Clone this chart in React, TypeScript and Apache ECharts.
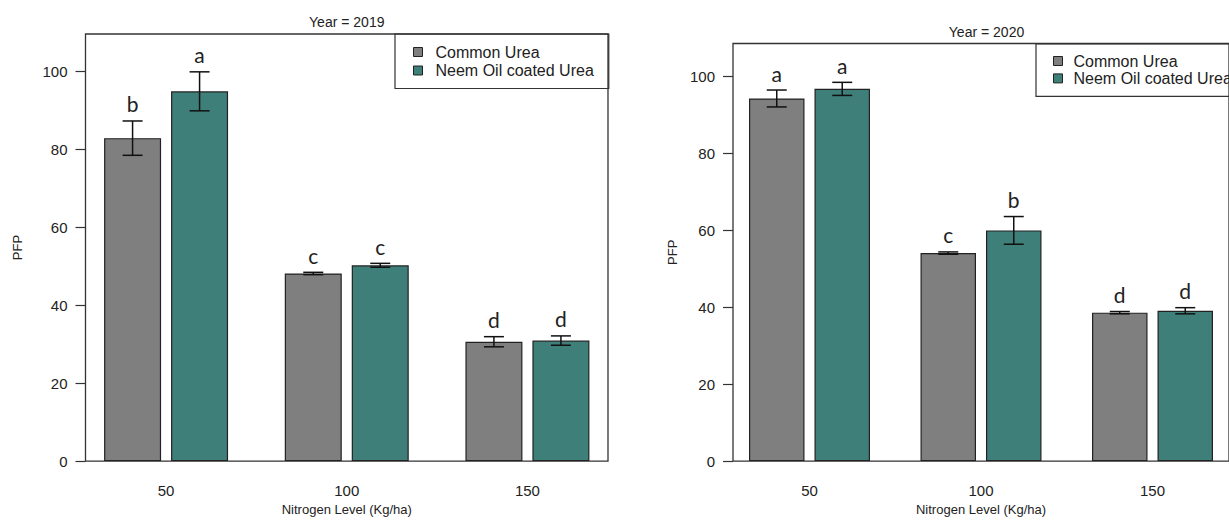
import React, { useEffect, useRef } from "react";
import * as echarts from "echarts";

// ---- data ----
const nitrogenLevels = [50, 100, 150];
const yTicks = [0, 20, 40, 60, 80, 100];
const seriesNames = ["Common Urea", "Neem Oil coated Urea"];
const titles = ["Year = 2019", "Year = 2020"];

const common2019 = [82.8, 48.1, 30.6];
const commonErr2019 = [4.4, 0.3, 1.3];
const commonLetters2019 = ["b", "c", "d"];
const neem2019 = [94.8, 50.2, 30.9];
const neemErr2019 = [5.0, 0.5, 1.2];
const neemLetters2019 = ["a", "c", "d"];

const common2020 = [94.3, 54.1, 38.6];
const commonErr2020 = [2.2, 0.3, 0.3];
const commonLetters2020 = ["a", "c", "d"];
const neem2020 = [96.8, 60.0, 39.1];
const neemErr2020 = [1.7, 3.6, 0.8];
const neemLetters2020 = ["a", "b", "d"];

const FONT = "'Liberation Sans', Arial, sans-serif";
const GRAY = "#7f7f7f";
const TEAL = "#3f7f7a";
const INK = "#222";

function errSeries(
  idx: number,
  means: number[],
  errs: number[],
  letters: string[],
  offset: number
) {
  return {
    type: "custom",
    xAxisIndex: idx,
    yAxisIndex: idx,
    z: 5,
    silent: true,
    clip: false,
    data: nitrogenLevels.map((x, i) => [x, means[i], errs[i]]),
    encode: { x: 0, y: 1 },
    renderItem: (params: any, api: any) => {
      const x = api.value(0);
      const m = api.value(1);
      const e = api.value(2);
      const top = api.coord([x, m + e]);
      const bot = api.coord([x, m - e]);
      const cx = top[0] + offset;
      const half = 10;
      const ls = { stroke: "#111", lineWidth: 1.5 };
      return {
        type: "group",
        children: [
          { type: "line", shape: { x1: cx, y1: top[1], x2: cx, y2: bot[1] }, style: ls },
          { type: "line", shape: { x1: cx - half, y1: top[1], x2: cx + half, y2: top[1] }, style: ls },
          { type: "line", shape: { x1: cx - half, y1: bot[1], x2: cx + half, y2: bot[1] }, style: ls },
          {
            type: "text",
            style: {
              text: letters[params.dataIndex],
              x: cx,
              y: top[1] - 17,
              align: "center",
              verticalAlign: "middle",
              fontSize: 21,
              fontFamily: "Lato, 'Open Sans', sans-serif",
              fill: INK,
            },
          },
        ],
      };
    },
  };
}

function barSeries(idx: number, name: string, vals: number[], color: string, width: number, gap: string) {
  return {
    type: "bar",
    name,
    xAxisIndex: idx,
    yAxisIndex: idx,
    data: nitrogenLevels.map((x, i) => [x, vals[i]]),
    barWidth: width,
    barGap: gap,
    itemStyle: { color, borderColor: INK, borderWidth: 1.2 },
  };
}

function yAxis(idx: number, max: number, nameGap: number) {
  return {
    type: "value",
    gridIndex: idx,
    min: 0,
    max,
    name: "PFP",
    nameLocation: "middle",
    nameGap,
    nameTextStyle: { fontSize: 13, color: INK, fontFamily: FONT },
    axisLine: { show: false },
    axisTick: { show: true, length: 10, customValues: yTicks, lineStyle: { color: "#333", width: 1.2 } },
    axisLabel: { customValues: yTicks, margin: 18, fontSize: 15, color: INK, fontFamily: FONT },
    splitLine: { show: false },
  };
}

function xAxis(idx: number) {
  return {
    type: "value",
    gridIndex: idx,
    min: 27.7,
    max: 172.3,
    name: "Nitrogen Level (Kg/ha)",
    nameLocation: "middle",
    nameGap: 40,
    nameTextStyle: { fontSize: 13, color: INK, fontFamily: FONT },
    axisLine: { show: false },
    axisTick: { show: false },
    axisLabel: { customValues: nitrogenLevels, margin: 22, fontSize: 15, color: INK, fontFamily: FONT },
    splitLine: { show: false },
  };
}

function legend(left: number, top: number, padding: number[], gap: number, textPad: number) {
  return {
    data: seriesNames,
    left,
    top,
    orient: "vertical",
    borderColor: "#333",
    borderWidth: 1.2,
    padding,
    itemWidth: 9,
    itemHeight: 9,
    itemGap: gap,
    icon: "rect",
    selectedMode: false,
    itemStyle: { borderColor: INK, borderWidth: 1 },
    textStyle: { fontSize: 16, lineHeight: 16, padding: [0, 0, 0, textPad], color: INK, fontFamily: FONT },
  };
}

export default function App() {
  const ref = useRef<HTMLDivElement>(null);
  useEffect(() => {
    if (!ref.current) return;
    const chart = echarts.init(ref.current, null, { renderer: "svg" });
    chart.setOption({
      animation: false,
      backgroundColor: "#ffffff",
      grid: [
        { left: 85.5, top: 34, width: 522.5, height: 434, show: true, borderColor: "#333", borderWidth: 1.3 },
        { left: 733, top: 43.5, width: 507, height: 425.5, show: true, borderColor: "#333", borderWidth: 1.3 },
      ],
      xAxis: [xAxis(0), xAxis(1)],
      yAxis: [yAxis(0, 109.5, 62), yAxis(1, 108.6, 54)],
      legend: [
        legend(395, 34, [10, 15, 10, 18], 2.5, 8),
        legend(1036, 44, [9, 40, 10, 17], 1.4, 6),
      ],
      graphic: [
        { type: "text", x: 346.75, y: 22, style: { text: titles[0], align: "center", verticalAlign: "middle", fontSize: 14, fontFamily: FONT, fill: INK } },
        { type: "text", x: 986.5, y: 32, style: { text: titles[1], align: "center", verticalAlign: "middle", fontSize: 14, fontFamily: FONT, fill: INK } },
      ],
      series: [
        barSeries(0, seriesNames[0], common2019, GRAY, 57, "17.5%"),
        barSeries(0, seriesNames[1], neem2019, TEAL, 57, "17.5%"),
        barSeries(1, seriesNames[0], common2020, GRAY, 55.5, "18%"),
        barSeries(1, seriesNames[1], neem2020, TEAL, 55.5, "18%"),
        errSeries(0, common2019, commonErr2019, commonLetters2019, -33.5),
        errSeries(0, neem2019, neemErr2019, neemLetters2019, 33.5),
        errSeries(1, common2020, commonErr2020, commonLetters2020, -32.75),
        errSeries(1, neem2020, neemErr2020, neemLetters2020, 32.75),
      ],
    });
    return () => chart.dispose();
  }, []);
  return (
    <div
      ref={ref}
      style={{ position: "absolute", left: 0, top: 0, width: 1229, height: 521, background: "#fff" }}
    />
  );
}
